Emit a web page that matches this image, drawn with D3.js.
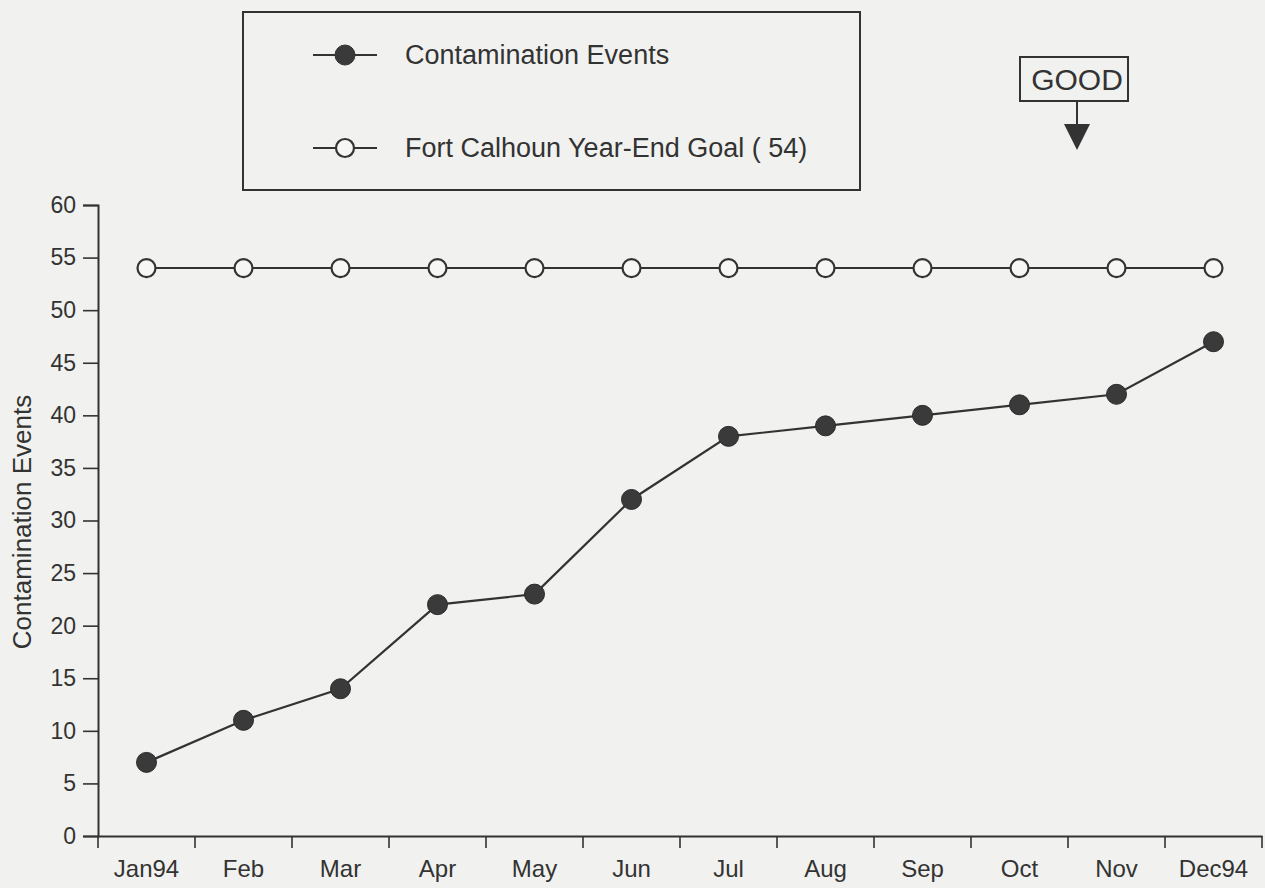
<!DOCTYPE html>
<html>
<head>
<meta charset="utf-8">
<script src="https://cdn.jsdelivr.net/npm/d3@7"></script>
<style>
  html, body { margin: 0; padding: 0; background: #f1f1ef; }
  svg { display: block; font-family: "Liberation Sans", Arial, sans-serif; }
</style>
</head>
<body>
<svg id="chart" width="1265" height="888"></svg>
<script>
const months = ["Jan94", "Feb", "Mar", "Apr", "May", "Jun", "Jul", "Aug", "Sep", "Oct", "Nov", "Dec94"];
const events = [7, 11, 14, 22, 23, 32, 38, 39, 40, 41, 42, 47];
const goal = [54, 54, 54, 54, 54, 54, 54, 54, 54, 54, 54, 54];
const yTicks = [0, 5, 10, 15, 20, 25, 30, 35, 40, 45, 50, 55, 60];
const seriesNames = ["Contamination Events", "Fort Calhoun Year-End Goal ( 54)"];
const yTitle = "Contamination Events";

const ink = "#333";
const svg = d3.select("#chart");

const x = d3.scaleBand().domain(months).range([98, 1262]).padding(0);
const y = d3.scaleLinear().domain([0, 60]).range([836, 205]);
const cx = d => x(d) + x.bandwidth() / 2;

// Y axis
const yAxis = d3.axisLeft(y).tickValues(yTicks).tickSize(15).tickPadding(7);
const gy = svg.append("g").attr("transform", "translate(98,0)").call(yAxis);
gy.select(".domain").attr("stroke", ink).attr("stroke-width", 2);
gy.selectAll(".tick line").attr("stroke", ink).attr("stroke-width", 1.6);
gy.selectAll(".tick text").attr("font-size", 23).attr("fill", ink);

// X axis: labels at band centers, tick marks at band boundaries
const xAxis = d3.axisBottom(x).tickSize(0).tickPadding(24);
const gx = svg.append("g").attr("transform", "translate(0,836)").call(xAxis);
gx.select(".domain").attr("stroke", ink).attr("stroke-width", 2);
gx.selectAll(".tick text").attr("font-size", 24).attr("fill", ink);
const bounds = months.map(m => x(m)).concat([x.range()[1]]);
svg.append("g").selectAll("line").data(bounds).join("line")
  .attr("x1", d => d).attr("x2", d => d)
  .attr("y1", 836).attr("y2", 848)
  .attr("stroke", ink).attr("stroke-width", 1.6);

// Y title
svg.append("text")
  .attr("transform", "translate(31,522) rotate(-90)")
  .attr("text-anchor", "middle")
  .attr("font-size", 26).attr("fill", ink)
  .text(yTitle);

const line = d3.line().x((d, i) => cx(months[i])).y(d => y(d));

// Goal series
svg.append("path").datum(goal).attr("d", line)
  .attr("fill", "none").attr("stroke", ink).attr("stroke-width", 2);
svg.append("g").selectAll("circle").data(goal).join("circle")
  .attr("cx", (d, i) => cx(months[i])).attr("cy", d => y(d)).attr("r", 9)
  .attr("fill", "#f6f6f4").attr("stroke", ink).attr("stroke-width", 2.2);

// Events series
svg.append("path").datum(events).attr("d", line)
  .attr("fill", "none").attr("stroke", ink).attr("stroke-width", 2.2);
svg.append("g").selectAll("circle").data(events).join("circle")
  .attr("cx", (d, i) => cx(months[i])).attr("cy", d => y(d)).attr("r", 10)
  .attr("fill", "#3a3a3a").attr("stroke", "#2a2a2a").attr("stroke-width", 1);

// Legend
const lg = svg.append("g");
lg.append("rect").attr("x", 243).attr("y", 12).attr("width", 617).attr("height", 178)
  .attr("fill", "none").attr("stroke", ink).attr("stroke-width", 2);
const items = [{name: seriesNames[0], filled: true, y: 55}, {name: seriesNames[1], filled: false, y: 148}];
items.forEach(it => {
  lg.append("line").attr("x1", 313).attr("x2", 377).attr("y1", it.y).attr("y2", it.y)
    .attr("stroke", ink).attr("stroke-width", 2);
  lg.append("circle").attr("cx", 345).attr("cy", it.y).attr("r", it.filled ? 10 : 9)
    .attr("fill", it.filled ? "#3a3a3a" : "#f6f6f4")
    .attr("stroke", ink).attr("stroke-width", it.filled ? 1 : 2.2);
  lg.append("text").attr("x", 405).attr("y", it.y).attr("dy", "0.35em")
    .attr("font-size", 27).attr("fill", ink).text(it.name);
});

// GOOD indicator
const gg = svg.append("g");
gg.append("rect").attr("x", 1020).attr("y", 57).attr("width", 108).attr("height", 44)
  .attr("fill", "none").attr("stroke", ink).attr("stroke-width", 2);
gg.append("text").attr("x", 1077).attr("y", 79).attr("dy", "0.36em")
  .attr("text-anchor", "middle").attr("font-size", 30).attr("fill", ink).text("GOOD");
gg.append("line").attr("x1", 1077).attr("x2", 1077).attr("y1", 101).attr("y2", 126)
  .attr("stroke", ink).attr("stroke-width", 2);
gg.append("path").attr("d", "M1064,124 L1090,124 L1077,150 Z").attr("fill", ink);
</script>
</body>
</html>
